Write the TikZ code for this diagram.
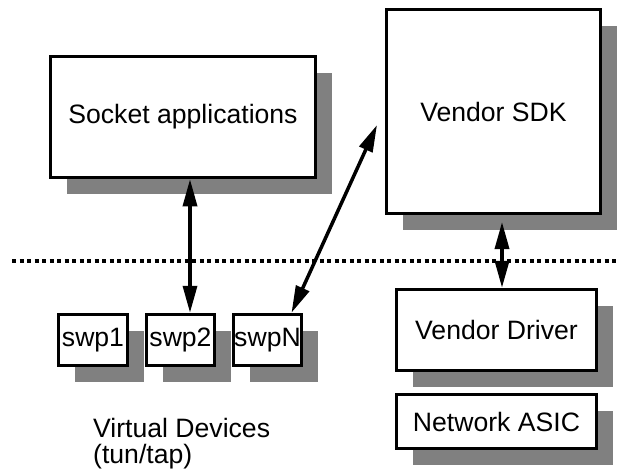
\documentclass[tikz,border=0pt]{standalone}
\usepackage{fontspec}
\setmainfont{Liberation Sans}
\usetikzlibrary{shadows,arrows.meta}
\definecolor{shadowgray}{HTML}{808080}
\begin{document}
\begin{tikzpicture}[x=1pt,y=-1pt,
  box/.style={draw=black, line width=3.5pt, fill=white, inner sep=0pt,
    font=\fontsize{26.6}{26}\selectfont,
    drop shadow={shadow xshift=16pt, shadow yshift=-16pt, fill=shadowgray, opacity=1, rounded corners=1pt}},
  link/.style={line width=3.5pt, {Triangle[length=27pt,width=14pt]}-{Triangle[length=27pt,width=14pt]}},
  sep/.style={line width=4pt, dash pattern=on 4pt off 3.5pt},
  lbl/.style={font=\fontsize{26.6}{26}\selectfont, align=left, inner sep=0pt}]
\useasboundingbox (0,0) rectangle (619,474);

\node[box, minimum width=265pt, minimum height=121pt] (socket) at (183,117) {Socket applications};
\node[box, minimum width=214pt, minimum height=204pt] (sdk) at (493.5,111.5) {Vendor SDK};
\node[box, minimum width=69pt, minimum height=51pt] (swp1) at (93,340) {swp1};
\node[box, minimum width=68pt, minimum height=51pt] (swp2) at (180.5,340) {swp2};
\node[box, minimum width=68pt, minimum height=51pt] (swpN) at (267.5,340) {swpN};
\node[box, minimum width=200pt, minimum height=81pt] (driver) at (496.5,330) {Vendor Driver};
\node[box, minimum width=200pt, minimum height=54pt] (asic) at (496.5,421.5) {Network ASIC};

\node[lbl, anchor=base west] (vd) at (93,463) {Virtual Devices\\(tun/tap)};

\coordinate (sepL) at (12,261);
\coordinate (sepR) at (619,261);
\draw[sep] (sepL) -- (sepR);

\path ([xshift=9.5pt]swp2.north) coordinate (s2top);
\draw[link] (socket.south -| s2top) -- (s2top);

\coordinate (sdkL) at (377,125);
\path ([xshift=24pt]swpN.north) coordinate (sNtop);
\draw[link] (sdkL) -- (sNtop);

\path ([xshift=5.5pt]driver.north) coordinate (drvtop);
\coordinate (sdkbot) at (502,222);
\draw[link] (sdkbot) -- (drvtop);
\end{tikzpicture}
\end{document}
